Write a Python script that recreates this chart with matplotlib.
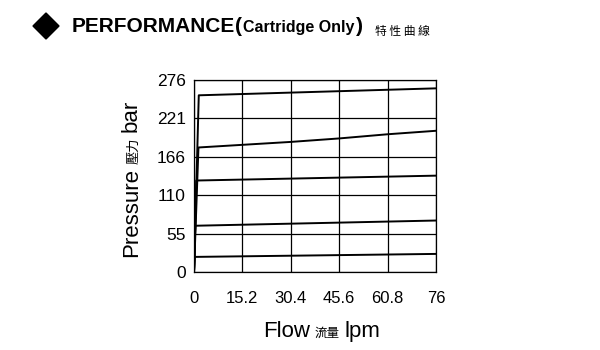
import matplotlib.pyplot as plt
from matplotlib.patches import Polygon

plt.rcParams['font.family'] = ['Liberation Sans', 'Noto Sans CJK TC', 'DejaVu Sans']

# flow (lpm) / pressure (bar)
flow_ticks = [0, 15.2, 30.4, 45.6, 60.8, 76]
pressure_ticks = [0, 55, 110, 166, 221, 276]

curve_flow = [
    [0, 0.2, 76],
    [0, 0.4, 76],
    [0, 0.7, 76],
    [0, 1.4, 30.4, 45.6, 60.8, 76],
    [0, 1.5, 76],
]
curve_pressure = [
    [0, 21.7, 26],
    [0, 66.5, 74],
    [0, 131.5, 138.5],
    [0, 179, 187, 192, 198, 203],
    [0, 254, 264],
]

W, H = 600, 350
fig = plt.figure(figsize=(6, 3.5), dpi=100)
ax = fig.add_axes([194 / W, 1 - 272 / H, 242 / W, 192 / H])
renderer = fig.canvas.get_renderer()


def fx(px):
    return px / W


def fy(py):
    return 1 - py / H


def chain(pieces, x0, y0, vertical=False):
    # pieces: (text, fontsize, extra kwargs, gap before in px)
    # vertical text runs upward, so the pixel y goes down
    pos = y0 if vertical else x0
    for txt, size, kw, gap in pieces:
        if vertical:
            pos -= gap
            t = fig.text(fx(x0), fy(pos), txt, rotation=90, rotation_mode='anchor',
                         ha='left', va='baseline', fontsize=size, **kw)
            pos -= t.get_window_extent(renderer).height
        else:
            pos += gap
            t = fig.text(fx(pos), fy(y0), txt, ha='left', va='baseline', fontsize=size, **kw)
            pos += t.get_window_extent(renderer).width


for xs, ys in zip(curve_flow, curve_pressure):
    ax.plot(xs, ys, color='black', lw=1.4, zorder=3)

ax.set_xlim(0, 76)
ax.set_ylim(0, 276)
ax.set_xticks(flow_ticks)
ax.set_yticks(pressure_ticks)
ax.set_xticklabels(['0', '15.2', '30.4', '45.6', '60.8', '76'], fontsize=12)
ax.set_yticklabels([str(v) for v in pressure_ticks], fontsize=12.5)
ax.tick_params(length=0, pad=6)
ax.tick_params(axis='x', pad=14)
ax.grid(True, color='black', lw=0.9)
for s in ax.spines.values():
    s.set_linewidth(0.9)

# y label (rotated, reads upward)
chain([('Pressure', 16, {}, 0),
       ('壓力', 9.5, {}, 4),
       ('bar', 16, {}, 5)], 137, 257, vertical=True)

# x label
chain([('Flow', 16, {}, 0),
       ('流量', 9, {}, 5),
       ('lpm', 16, {}, 5)], 263, 337)

# title
fig.patches.append(Polygon([[fx(33), fy(26)], [fx(46), fy(13)], [fx(59), fy(26)], [fx(46), fy(39)]],
                           closed=True, color='black', transform=fig.transFigure))
chain([('PERFORMANCE', 15, {'fontweight': 'bold'}, 0),
       ('(', 15, {'fontweight': 'bold'}, 0),
       ('Cartridge Only', 11.5, {'fontweight': 'bold'}, 1),
       (')', 15, {'fontweight': 'bold'}, 1)], 72, 32)
fig.text(fx(375), fy(35), '特 性 曲 線', ha='left', va='baseline', fontsize=8.5,
         family=['Noto Sans CJK TC'])

fig.savefig('out.png', dpi=100)
